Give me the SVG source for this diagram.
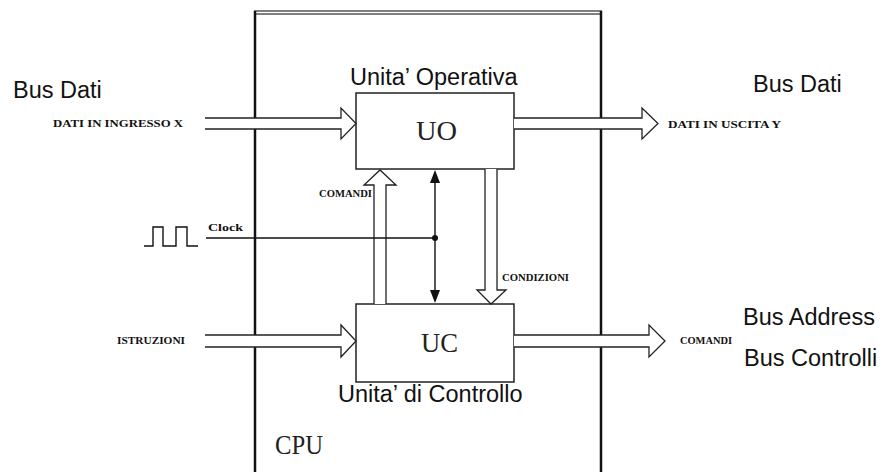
<svg xmlns="http://www.w3.org/2000/svg" width="885" height="472" viewBox="0 0 885 472">
<style>
  .bus { fill: #fff; stroke: #222; stroke-width: 1.3; }
  .box { fill: #fff; stroke: #222; stroke-width: 1.5; }
  .wire { fill: none; stroke: #111; stroke-width: 1.4; }
  .big { font-family: "Liberation Sans", Arial, sans-serif; font-size: 23.5px; fill: #111; }
  .mono { font-family: "Liberation Serif", "Times New Roman", serif; font-size: 28px; fill: #222; }
  .small { font-family: "Liberation Serif", "Times New Roman", serif; font-weight: bold; font-size: 11px; fill: #111; }
  .clk { font-family: "Liberation Serif", "Times New Roman", serif; font-weight: bold; font-size: 11px; fill: #111; }
</style>
<rect width="885" height="472" fill="#fff"/>
<g id="cpu">
  <line x1="254" y1="11" x2="602" y2="11" stroke="#555" stroke-width="1.5"/>
  <line x1="254" y1="14" x2="602" y2="14" stroke="#555" stroke-width="1.5"/>
  <line x1="255" y1="11" x2="255" y2="472" stroke="#111" stroke-width="2.5"/>
  <line x1="601" y1="11" x2="601" y2="472" stroke="#111" stroke-width="2.5"/>
  <text class="mono" x="275" y="454" textLength="48" lengthAdjust="spacingAndGlyphs">CPU</text>
</g>
<g id="uo">
  <rect class="box" x="356" y="93" width="158" height="76"/>
  <text class="mono" x="416" y="140" textLength="41" lengthAdjust="spacingAndGlyphs">UO</text>
  <text class="big" x="350" y="85">Unita’ Operativa</text>
</g>
<g id="uc">
  <rect class="box" x="356" y="304" width="158" height="78"/>
  <text class="mono" x="421" y="352" textLength="37" lengthAdjust="spacingAndGlyphs">UC</text>
  <text class="big" x="338" y="402">Unita’ di Controllo</text>
</g>
<g id="connectors">
  <path class="bus" d="M205,118 H341 V108 L356,123.5 L341,139 V129 H205"/>
  <path class="bus" d="M514,118 H642 V108 L658,123.5 L642,139 V129 H514"/>
  <path class="bus" d="M205,335 H341 V325 L356,341 L341,357 V347 H205"/>
  <path class="bus" d="M514,335 H649 V325 L665,341 L649,357 V347 H514"/>
  <path class="bus" d="M374,304 V185 H364 L380,170 L396,185 H386 V304"/>
  <path class="bus" d="M485,169 V290 H477 L491,304 L506,290 H497 V169"/>
  <line class="wire" x1="435" y1="172" x2="435" y2="301"/>
  <polygon points="435,170 430,183 440,183" fill="#111"/>
  <polygon points="435,303 430,290 440,290" fill="#111"/>
  <line class="wire" x1="206" y1="238" x2="435" y2="238"/>
  <circle cx="435" cy="238" r="3" fill="#111"/>
</g>
<g id="clock">
  <polyline class="wire" points="144,246 153,246 153,227 163,227 163,246 176,246 176,227 187,227 187,246 198,246"/>
  <text class="clk" x="208" y="231" textLength="35" lengthAdjust="spacingAndGlyphs">Clock</text>
</g>
<g id="labels">
  <text class="big" x="13" y="98">Bus Dati</text>
  <text class="big" x="753" y="92">Bus Dati</text>
  <text class="big" x="743" y="325">Bus Address</text>
  <text class="big" x="744" y="366">Bus Controlli</text>
  <text class="small" x="53" y="127" textLength="130" lengthAdjust="spacingAndGlyphs">DATI IN INGRESSO X</text>
  <text class="small" x="668" y="128" textLength="113" lengthAdjust="spacingAndGlyphs">DATI IN USCITA Y</text>
  <text class="small" x="319" y="197" textLength="53" lengthAdjust="spacingAndGlyphs">COMANDI</text>
  <text class="small" x="502" y="281" textLength="67" lengthAdjust="spacingAndGlyphs">CONDIZIONI</text>
  <text class="small" x="117" y="344" textLength="68" lengthAdjust="spacingAndGlyphs">ISTRUZIONI</text>
  <text class="small" x="680" y="344" textLength="52" lengthAdjust="spacingAndGlyphs">COMANDI</text>
</g>
</svg>
